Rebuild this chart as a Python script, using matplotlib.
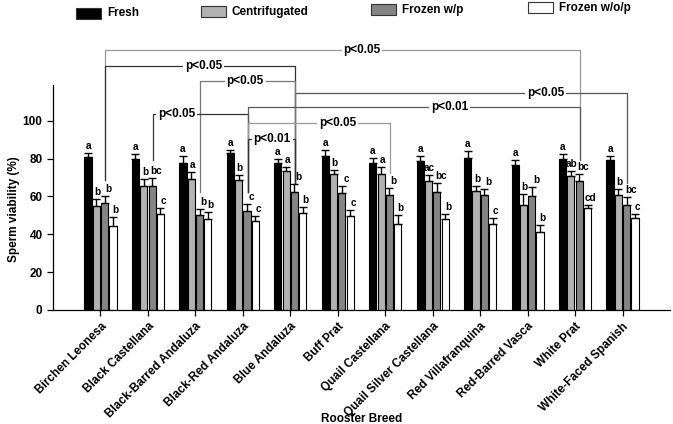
import matplotlib
matplotlib.use('Agg')
import matplotlib.pyplot as plt
import numpy as np
from matplotlib.patches import Rectangle

plt.rcParams['font.family'] = ['Liberation Sans', 'DejaVu Sans']
plt.rcParams['font.weight'] = 'bold'

# breeds on the x axis
breeds = ['Birchen Leonesa', 'Black Castellana', 'Black-Barred Andaluza', 'Black-Red Andaluza',
          'Blue Andaluza', 'Buff Prat', 'Quail Castellana', 'Quail Silver Castellana',
          'Red Villafranquina', 'Red-Barred Vasca', 'White Prat', 'White-Faced Spanish']

series_labels = ['Fresh', 'Centrifugated', 'Frozen w/p', 'Frozen w/o/p']

# mean sperm viability (%) per treatment
fresh = [80.6, 79.6, 77.8, 82.9, 77.5, 81.5, 77.5, 78.9, 80.3, 76.6, 79.8, 79.2]
centrifugated = [54.9, 65.5, 69.2, 68.7, 73.6, 71.8, 71.7, 68.3, 62.9, 55.6, 70.6, 60.6]
frozen_wp = [56.3, 65.5, 50.0, 52.5, 62.5, 61.6, 60.9, 62.3, 60.6, 60.2, 68.1, 55.3]
frozen_wop = [44.4, 50.7, 47.9, 47.0, 51.4, 49.6, 45.2, 47.9, 45.6, 41.0, 54.0, 48.8]

# upper error (SEM)
fresh_err = [2.3, 2.8, 3.4, 1.8, 2.1, 2.8, 2.8, 2.4, 3.5, 2.6, 2.4, 2.3]
centrifugated_err = [3.9, 3.5, 3.7, 2.4, 2.1, 2.0, 3.8, 3.2, 2.4, 5.8, 2.8, 3.1]
frozen_wp_err = [3.9, 4.4, 3.2, 3.3, 3.9, 3.9, 3.5, 5.0, 3.1, 4.6, 3.9, 4.2]
frozen_wop_err = [4.5, 3.3, 3.9, 2.5, 3.2, 3.0, 4.8, 3.0, 2.8, 4.1, 1.3, 1.7]

# significance letters
fresh_letters = ['a'] * 12
centrifugated_letters = ['b', 'b', 'a', 'b', 'a', 'b', 'a', 'ac', 'b', 'b', 'ab', 'b']
frozen_wp_letters = ['b', 'bc', 'b', 'c', 'b', 'c', 'b', 'bc', 'b', 'b', 'bc', 'bc']
frozen_wop_letters = ['b', 'c', 'b', 'c', 'b', 'c', 'b', 'b', 'c', 'b', 'cd', 'c']

# comparisons of frozen w/p between breeds: (breed a, breed b, label)
comparisons = [(0, 10, 'p<0.05'), (0, 4, 'p<0.05'), (4, 11, 'p<0.05'), (2, 4, 'p<0.05'),
               (1, 3, 'p<0.05'), (3, 10, 'p<0.01'), (3, 6, 'p<0.05'), (3, 4, 'p<0.01')]

values = [fresh, centrifugated, frozen_wp, frozen_wop]
errors = [fresh_err, centrifugated_err, frozen_wp_err, frozen_wop_err]
letters = [fresh_letters, centrifugated_letters, frozen_wp_letters, frozen_wop_letters]
colors = ['#000000', '#b2b2b2', '#858585', '#ffffff']

fig = plt.figure(figsize=(6.73, 4.24), dpi=100)
ax = fig.add_axes([0.0788, 0.2689, 0.9167, 0.625])

x = np.arange(len(breeds))
step = 0.175
bar_width = 0.15
offsets = [-1.5 * step, -0.5 * step, 0.5 * step, 1.5 * step]
# letters sit a little right of their bar, as in the original
nudges = [0, 0.8, 3.0, 2.0]

for vals, errs, labs, col, off, nd in zip(values, errors, letters, colors, offsets, nudges):
    ax.bar(x + off, vals, bar_width, color=col, edgecolor='black', linewidth=0.8, zorder=2)
    ax.errorbar(x + off, vals, yerr=[np.zeros(len(errs)), errs], fmt='none', ecolor='black',
                elinewidth=1.0, capsize=2.6, capthick=1.0, zorder=3)
    for xi, v, e, lab in zip(x + off, vals, errs, labs):
        ax.annotate(lab, (xi, v + e), xytext=(nd, 1.5), textcoords='offset points',
                    ha='center', va='bottom', fontsize=7.2, fontweight='bold')

# bracket layout: height, label x, line colour
bracket_y = [137.3, 129.1, 114.5, 121.1, 103.5, 107.1, 98.8, 90.3]
bracket_tx = [5.51, 2.17, 9.38, 3.05, 1.6, 7.36, 5.0, 3.62]
bracket_col = ['#9a9a9a', '#333333', '#555555', '#777777', '#333333', '#5a5a5a', '#9a9a9a', '#333333']
drop_end = {0: 68.7, 1: 79.0, 2: 62.3, 3: 62.5, 4: 67.0, 6: 72.4, 10: 79.0, 11: 67.0}
bx = 0.1

for (ga, gb, lab), by, tx, bc in zip(comparisons, bracket_y, bracket_tx, bracket_col):
    ax.plot([ga + bx, ga + bx, gb + bx, gb + bx], [drop_end[ga], by, by, drop_end[gb]],
            color=bc, linewidth=0.9, zorder=1, clip_on=False)
    ax.text(tx, by, lab, ha='center', va='center', fontsize=8.5, fontweight='bold', zorder=4,
            bbox=dict(facecolor='white', edgecolor='none', pad=1.2))

ax.set_xlim(-1, 12)
ax.set_ylim(0, 140)
ax.set_yticks([0, 20, 40, 60, 80, 100])
ax.spines['left'].set_bounds(0, 119)
ax.spines['top'].set_visible(False)
ax.spines['right'].set_visible(False)
ax.spines['left'].set_linewidth(0.9)
ax.spines['bottom'].set_linewidth(0.9)
ax.tick_params(axis='both', direction='out', length=4, width=0.9, labelsize=8.5)
ax.set_xticks(x)
ax.set_xticklabels(breeds, rotation=45, ha='right', rotation_mode='anchor', fontweight='bold')
for lbl in ax.get_yticklabels():
    lbl.set_fontweight('bold')

ax.set_ylabel('Sperm viability (%)', fontsize=8.5, fontweight='bold')
ax.yaxis.set_label_coords(-0.054, 0.38)
ax.set_xlabel('Rooster Breed', fontsize=8.5, fontweight='bold')
ax.xaxis.set_label_coords(0.5, -0.39)

# legend across the top, slightly staggered like the original
leg_x = [76, 201, 371, 528]
leg_y = [19, 17, 15, 13]
W, H = 673.0, 424.0
for lx, ly, col, lab in zip(leg_x, leg_y, colors, series_labels):
    fig.patches.append(Rectangle((lx / W, 1 - ly / H), 25 / W, 11 / H, transform=fig.transFigure,
                                 facecolor=col, edgecolor='#333333', linewidth=0.8))
    fig.text((lx + 31) / W, 1 - (ly - 5.5) / H, lab, ha='left', va='center', fontsize=8.5,
             fontweight='bold')

fig.savefig('out.png', dpi=100)
